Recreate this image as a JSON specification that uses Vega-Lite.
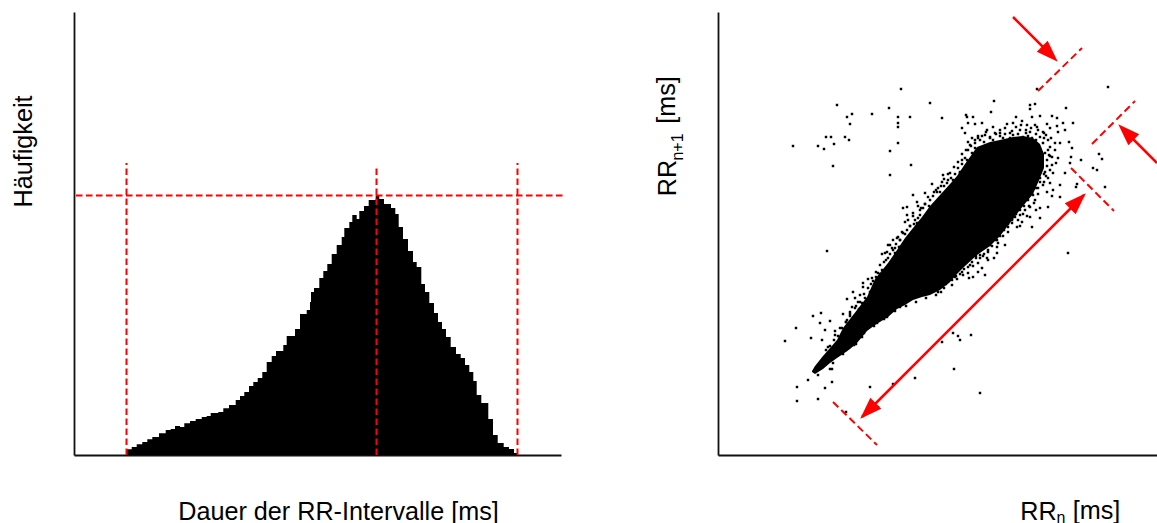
{"$schema":"https://vega.github.io/schema/vega-lite/v6.json","background":"white","padding":{"left":11,"top":12,"right":0,"bottom":0},"bounds":"flush","spacing":157,"config":{"view":{"stroke":null},"font":"Liberation Sans"},
"datasets":{
"hist":[{"ms":126.7,"n":5.7},{"ms":131.7,"n":8},{"ms":136.7,"n":10.7},{"ms":142.3,"n":13},{"ms":147.3,"n":15.7},{"ms":152.3,"n":18},{"ms":159,"n":21.7},{"ms":165.7,"n":25},{"ms":170.7,"n":26},{"ms":175,"n":29},{"ms":180,"n":28},{"ms":184.3,"n":31.7},{"ms":190,"n":34},{"ms":195.7,"n":36},{"ms":201.7,"n":38},{"ms":206.7,"n":39},{"ms":210.7,"n":42},{"ms":218.3,"n":43},{"ms":223.3,"n":46.7},{"ms":229,"n":50},{"ms":235.7,"n":55},{"ms":240,"n":59},{"ms":244.3,"n":63},{"ms":249,"n":69},{"ms":253.3,"n":73},{"ms":257.7,"n":77},{"ms":262.3,"n":83},{"ms":266.7,"n":93},{"ms":271.7,"n":99},{"ms":276,"n":104},{"ms":283.3,"n":110},{"ms":286.7,"n":119},{"ms":295,"n":126},{"ms":300,"n":141},{"ms":306.7,"n":145},{"ms":310,"n":153},{"ms":311,"n":163},{"ms":314,"n":167},{"ms":319.3,"n":177},{"ms":323.3,"n":184},{"ms":327.3,"n":191},{"ms":331.7,"n":201},{"ms":336.7,"n":210},{"ms":341.7,"n":218},{"ms":344.3,"n":227},{"ms":349.3,"n":233},{"ms":352.3,"n":240},{"ms":356.7,"n":236},{"ms":359.3,"n":244},{"ms":364,"n":249},{"ms":368.7,"n":255},{"ms":375.7,"n":260},{"ms":379.3,"n":256},{"ms":384,"n":251},{"ms":391,"n":247},{"ms":395.3,"n":241},{"ms":398.7,"n":228},{"ms":403,"n":216},{"ms":408,"n":204},{"ms":413,"n":193},{"ms":416.7,"n":188},{"ms":421.3,"n":171},{"ms":425,"n":163},{"ms":429.3,"n":152},{"ms":434,"n":142},{"ms":438,"n":133},{"ms":442,"n":126},{"ms":446,"n":118},{"ms":450.7,"n":108},{"ms":456,"n":101},{"ms":460.7,"n":97},{"ms":465,"n":90},{"ms":469.3,"n":83},{"ms":473.3,"n":74},{"ms":476.7,"n":60},{"ms":481.3,"n":52},{"ms":488.3,"n":36},{"ms":493,"n":20},{"ms":497.7,"n":12},{"ms":503.7,"n":8},{"ms":509,"n":6},{"ms":514,"n":2},{"ms":517.7,"n":0}],
"histRules":[{"ms":126.5,"ms2":126.5,"n":0,"n2":292},{"ms":376.5,"ms2":376.5,"n":0,"n2":290},{"ms":517.5,"ms2":517.5,"n":0,"n2":292},{"ms":76,"ms2":565,"n":259.5,"n2":259.5}],
"core":[{"rr":812,"hi":629,"lo":628},{"rr":815,"hi":634,"lo":626},{"rr":823,"hi":644,"lo":631},{"rr":830,"hi":652,"lo":637},{"rr":837,"hi":660,"lo":642},{"rr":843,"hi":672,"lo":646},{"rr":850,"hi":681,"lo":651},{"rr":857,"hi":690,"lo":657},{"rr":867,"hi":703,"lo":669},{"rr":875,"hi":721,"lo":675},{"rr":888,"hi":737,"lo":683},{"rr":897,"hi":750,"lo":691},{"rr":905,"hi":762,"lo":695},{"rr":913,"hi":772,"lo":700},{"rr":922,"hi":783,"lo":703},{"rr":930,"hi":794,"lo":705},{"rr":940,"hi":805,"lo":710},{"rr":950,"hi":816,"lo":718},{"rr":957,"hi":824,"lo":726},{"rr":965,"hi":836,"lo":734},{"rr":977,"hi":853,"lo":745},{"rr":990,"hi":858,"lo":754},{"rr":1000,"hi":860,"lo":764},{"rr":1013,"hi":863,"lo":781},{"rr":1023,"hi":864,"lo":794},{"rr":1033,"hi":862,"lo":806},{"rr":1040,"hi":856,"lo":822},{"rr":1044,"hi":846,"lo":832}],
"scatter":[{"rr":901,"next":911},{"rr":1108,"next":913},{"rr":1037,"next":911},{"rr":837,"next":895},{"rr":930,"next":897},{"rr":994,"next":899},{"rr":1030,"next":895},{"rr":1035,"next":896},{"rr":1066,"next":892},{"rr":1030,"next":891},{"rr":889,"next":892},{"rr":991,"next":888},{"rr":872,"next":886},{"rr":852,"next":886},{"rr":847,"next":883},{"rr":898,"next":883},{"rr":910,"next":883},{"rr":942,"next":882},{"rr":966,"next":885},{"rr":973,"next":883},{"rr":1016,"next":883},{"rr":1040,"next":884},{"rr":1052,"next":884},{"rr":1057,"next":882},{"rr":850,"next":876},{"rr":898,"next":877},{"rr":898,"next":873},{"rr":826,"next":863},{"rr":831,"next":863},{"rr":845,"next":863},{"rr":849,"next":860},{"rr":834,"next":856},{"rr":898,"next":857},{"rr":793,"next":854},{"rr":818,"next":854},{"rr":824,"next":851},{"rr":890,"next":849},{"rr":833,"next":834},{"rr":911,"next":835},{"rr":890,"next":825},{"rr":827,"next":749},{"rr":1068,"next":747},{"rr":1073,"next":877},{"rr":1063,"next":877},{"rr":1065,"next":870},{"rr":1069,"next":858},{"rr":1072,"next":852},{"rr":1071,"next":843},{"rr":1081,"next":840},{"rr":1099,"next":846},{"rr":1102,"next":841},{"rr":1093,"next":832},{"rr":1097,"next":830},{"rr":1070,"next":837},{"rr":1065,"next":827},{"rr":1077,"next":816},{"rr":1076,"next":813},{"rr":1105,"next":813},{"rr":1060,"next":815},{"rr":1060,"next":803},{"rr":1052,"next":804},{"rr":785,"next":659},{"rr":796,"next":672},{"rr":813,"next":684},{"rr":821,"next":687},{"rr":820,"next":677},{"rr":830,"next":679},{"rr":825,"next":670},{"rr":811,"next":662},{"rr":822,"next":660},{"rr":835,"next":669},{"rr":808,"next":620},{"rr":818,"next":625},{"rr":830,"next":631},{"rr":833,"next":637},{"rr":797,"next":613},{"rr":825,"next":612},{"rr":832,"next":618},{"rr":797,"next":599},{"rr":818,"next":601},{"rr":870,"next":613},{"rr":893,"next":616},{"rr":915,"next":622},{"rr":954,"next":631},{"rr":980,"next":607},{"rr":846,"next":588},{"rr":878,"next":593},{"rr":942,"next":658},{"rr":953,"next":667},{"rr":958,"next":664},{"rr":960,"next":660},{"rr":971,"next":665},{"rr":863,"next":717},{"rr":863,"next":713},{"rr":868,"next":721},{"rr":873,"next":719},{"rr":878,"next":727},{"rr":883,"next":729},{"rr":882,"next":746},{"rr":887,"next":748},{"rr":890,"next":755},{"rr":895,"next":747},{"rr":899,"next":753},{"rr":853,"next":708},{"rr":847,"next":701},{"rr":855,"next":702},{"rr":860,"next":705},{"rr":858,"next":698},{"rr":862,"next":697},{"rr":852,"next":693},{"rr":843,"next":686},{"rr":850,"next":688},{"rr":847,"next":680},{"rr":852,"next":680},{"rr":835,"next":665},{"rr":828,"next":653},{"rr":900,"next":698},{"rr":887,"next":683},{"rr":877,"next":677},{"rr":862,"next":663},{"rr":856,"next":656},{"rr":843,"next":646},{"rr":832,"next":631},{"rr":900,"next":693},{"rr":943,"next":825},{"rr":950,"next":827},{"rr":960,"next":828},{"rr":953,"next":820},{"rr":942,"next":818},{"rr":932,"next":816},{"rr":941,"next":814},{"rr":947,"next":817},{"rr":925,"next":807},{"rr":913,"next":805},{"rr":928,"next":803},{"rr":937,"next":808},{"rr":917,"next":798},{"rr":923,"next":792},{"rr":907,"next":793},{"rr":903,"next":792},{"rr":913,"next":787},{"rr":920,"next":785},{"rr":907,"next":785},{"rr":905,"next":778},{"rr":917,"next":777},{"rr":923,"next":773},{"rr":912,"next":762},{"rr":903,"next":767},{"rr":898,"next":763},{"rr":893,"next":760},{"rr":888,"next":755},{"rr":885,"next":747},{"rr":893,"next":750},{"rr":882,"next":730},{"rr":890,"next":733},{"rr":897,"next":741},{"rr":900,"next":753},{"rr":908,"next":762},{"rr":980,"next":752},{"rr":990,"next":755},{"rr":997,"next":760},{"rr":987,"next":742},{"rr":997,"next":747},{"rr":978,"next":737},{"rr":970,"next":735},{"rr":957,"next":730},{"rr":978,"next":728},{"rr":968,"next":727},{"rr":963,"next":725},{"rr":973,"next":723},{"rr":985,"next":725},{"rr":947,"next":727},{"rr":955,"next":723},{"rr":948,"next":718},{"rr":933,"next":714},{"rr":988,"next":740},{"rr":997,"next":753},{"rr":980,"next":745},{"rr":960,"next":733},{"rr":967,"next":883},{"rr":1032,"next":883},{"rr":968,"next":877},{"rr":975,"next":876},{"rr":982,"next":877},{"rr":993,"next":873},{"rr":1007,"next":876},{"rr":1013,"next":877},{"rr":1022,"next":879},{"rr":1027,"next":875},{"rr":1035,"next":875},{"rr":1047,"next":876},{"rr":1057,"next":874},{"rr":962,"next":872},{"rr":965,"next":867},{"rr":987,"next":870},{"rr":985,"next":865},{"rr":1000,"next":867},{"rr":1012,"next":869},{"rr":1020,"next":870},{"rr":1030,"next":868},{"rr":1038,"next":870},{"rr":1050,"next":872},{"rr":1058,"next":868},{"rr":980,"next":860},{"rr":975,"next":857},{"rr":968,"next":858},{"rr":975,"next":852},{"rr":972,"next":847},{"rr":967,"next":840},{"rr":962,"next":840},{"rr":970,"next":837},{"rr":965,"next":830},{"rr":960,"next":827},{"rr":993,"next":860},{"rr":1003,"next":862},{"rr":1013,"next":865},{"rr":1023,"next":863},{"rr":1032,"next":862},{"rr":1040,"next":863},{"rr":1048,"next":860},{"rr":1043,"next":857},{"rr":1050,"next":853},{"rr":1045,"next":847},{"rr":1055,"next":857},{"rr":1060,"next":857},{"rr":1052,"next":843},{"rr":1058,"next":842},{"rr":1047,"next":840},{"rr":1052,"next":835},{"rr":1053,"next":827},{"rr":1045,"next":828},{"rr":1048,"next":822},{"rr":1040,"next":822},{"rr":1043,"next":815},{"rr":1050,"next":817},{"rr":1038,"next":812},{"rr":1047,"next":808},{"rr":1033,"next":805},{"rr":1053,"next":810},{"rr":1048,"next":793},{"rr":1040,"next":792},{"rr":1030,"next":793},{"rr":1025,"next":790},{"rr":1030,"next":783},{"rr":1020,"next":785},{"rr":1015,"next":783},{"rr":1022,"next":778},{"rr":1012,"next":777},{"rr":1032,"next":773},{"rr":1017,"next":773},{"rr":1008,"next":773},{"rr":1040,"next":782},{"rr":1035,"next":800},{"rr":1000,"next":864},{"rr":1005,"next":866},{"rr":1010,"next":862},{"rr":1018,"next":866},{"rr":1026,"next":867},{"rr":1036,"next":866},{"rr":1044,"next":867},{"rr":1020,"next":862},{"rr":1028,"next":864},{"rr":1036,"next":860},{"rr":1044,"next":862},{"rr":995,"next":867},{"rr":990,"next":863},{"rr":984,"next":858},{"rr":978,"next":864},{"rr":972,"next":862},{"rr":970,"next":855},{"rr":966,"next":850},{"rr":962,"next":846},{"rr":958,"next":838},{"rr":954,"next":833},{"rr":948,"next":826},{"rr":944,"next":821},{"rr":938,"next":812},{"rr":934,"next":808},{"rr":930,"next":800},{"rr":925,"next":796},{"rr":920,"next":790},{"rr":915,"next":780},{"rr":910,"next":774},{"rr":905,"next":766},{"rr":900,"next":760},{"rr":895,"next":752},{"rr":890,"next":746},{"rr":886,"next":740},{"rr":880,"next":735},{"rr":876,"next":728},{"rr":872,"next":722},{"rr":868,"next":712},{"rr":864,"next":706},{"rr":860,"next":698},{"rr":856,"next":694},{"rr":850,"next":684},{"rr":846,"next":678},{"rr":842,"next":672},{"rr":838,"next":664},{"rr":834,"next":660},{"rr":830,"next":654},{"rr":826,"next":650},{"rr":1048,"next":850},{"rr":1050,"next":844},{"rr":1047,"next":834},{"rr":1044,"next":826},{"rr":1040,"next":818},{"rr":1036,"next":812},{"rr":1032,"next":806},{"rr":1028,"next":800},{"rr":1024,"next":794},{"rr":1020,"next":790},{"rr":1016,"next":786},{"rr":1012,"next":780},{"rr":1008,"next":776},{"rr":1004,"next":770},{"rr":1000,"next":764},{"rr":996,"next":760},{"rr":992,"next":754},{"rr":988,"next":750},{"rr":984,"next":746},{"rr":980,"next":742},{"rr":976,"next":744},{"rr":972,"next":738},{"rr":968,"next":733},{"rr":964,"next":731},{"rr":960,"next":726},{"rr":956,"next":724},{"rr":952,"next":720},{"rr":944,"next":712},{"rr":938,"next":708},{"rr":926,"next":702},{"rr":916,"next":698},{"rr":906,"next":694},{"rr":895,"next":689},{"rr":884,"next":681},{"rr":874,"next":674},{"rr":864,"next":667},{"rr":854,"next":655},{"rr":846,"next":650},{"rr":840,"next":672},{"rr":846,"next":678},{"rr":850,"next":686},{"rr":855,"next":692},{"rr":859,"next":691},{"rr":865,"next":702},{"rr":870,"next":708},{"rr":871,"next":716},{"rr":876,"next":723},{"rr":880,"next":726},{"rr":884,"next":738},{"rr":888,"next":742},{"rr":892,"next":737},{"rr":896,"next":756},{"rr":900,"next":760},{"rr":903,"next":755},{"rr":907,"next":770},{"rr":910,"next":774},{"rr":914,"next":776},{"rr":918,"next":782},{"rr":921,"next":792},{"rr":925,"next":796},{"rr":929,"next":794},{"rr":933,"next":804},{"rr":936,"next":810},{"rr":940,"next":808},{"rr":944,"next":814},{"rr":948,"next":820},{"rr":951,"next":822},{"rr":955,"next":826},{"rr":958,"next":832},{"rr":962,"next":836},{"rr":965,"next":842},{"rr":968,"next":850},{"rr":971,"next":854},{"rr":975,"next":860},{"rr":978,"next":862},{"rr":982,"next":864},{"rr":986,"next":868},{"rr":990,"next":862},{"rr":996,"next":866},{"rr":1000,"next":870},{"rr":1005,"next":872},{"rr":1010,"next":867},{"rr":1016,"next":873},{"rr":1021,"next":875},{"rr":1026,"next":870},{"rr":1031,"next":872},{"rr":1037,"next":873},{"rr":1043,"next":868},{"rr":1046,"next":865},{"rr":1051,"next":862},{"rr":1055,"next":850},{"rr":1049,"next":845},{"rr":1056,"next":837},{"rr":1050,"next":830},{"rr":1046,"next":824},{"rr":918,"next":794},{"rr":913,"next":784},{"rr":908,"next":780},{"rr":902,"next":768},{"rr":897,"next":762},{"rr":892,"next":752},{"rr":1044,"next":818},{"rr":1038,"next":806},{"rr":1034,"next":797},{"rr":1029,"next":794},{"rr":1023,"next":786},{"rr":1018,"next":780},{"rr":1012,"next":781},{"rr":1008,"next":768},{"rr":1003,"next":764},{"rr":998,"next":757},{"rr":992,"next":759},{"rr":988,"next":748},{"rr":983,"next":744},{"rr":976,"next":742},{"rr":973,"next":734},{"rr":966,"next":737},{"rr":962,"next":728},{"rr":957,"next":721},{"rr":951,"next":727},{"rr":946,"next":716},{"rr":941,"next":708},{"rr":936,"next":705},{"rr":1036,"next":790},{"rr":1027,"next":784},{"rr":1020,"next":774},{"rr":1005,"next":755},{"rr":994,"next":742},{"rr":982,"next":732},{"rr":969,"next":722},{"rr":952,"next":715}],
"guides":[{"rr":1038,"next":909,"rr2":1082,"next2":952},{"rr":1092,"next":856,"rr2":1135,"next2":899},{"rr":1071,"next":832,"rr2":1114,"next2":789},{"rr":833,"next":598,"rr2":877,"next2":555}],
"arrows":[{"rr":1084,"next":805,"rr2":862,"next2":583},{"rr":1013,"next":983,"rr2":1052,"next2":944},{"rr":1157,"next":837,"rr2":1124,"next2":870}],
"heads":[{"rr":1078,"next":799,"bearing":45},{"rr":868,"next":589,"bearing":225},{"rr":1050,"next":946,"bearing":135},{"rr":1126,"next":868,"bearing":315}],
"subs":[{"rr":683,"next":853,"label":"n+1","turn":270},{"rr":1061,"next":477,"label":"n","turn":0}],
"units":[{"rr":675,"next":900,"label":"[ms]","turn":270},{"rr":1096.5,"next":481,"label":"[ms]","turn":0}]
},
"hconcat":[
{"width":487,"height":443,"layer":[
{"data":{"name":"hist"},"mark":{"type":"area","interpolate":"step-after","color":"#000000"},"encoding":{"x":{"field":"ms","type":"quantitative","scale":{"domain":[74,561],"nice":false,"zero":false},"axis":{"title":"Dauer der RR-Intervalle [ms]","grid":false,"ticks":false,"labels":false,"domainColor":"#111111","domainWidth":1.8,"titleFont":"Liberation Sans","titleFontSize":25.2,"titleFontWeight":"normal","titleColor":"#000000","titleX":264,"titleY":64,"titleBaseline":"alphabetic","titleAlign":"center"}},"y":{"field":"n","type":"quantitative","scale":{"domain":[0,443],"nice":false},"axis":{"title":"Häufigkeit","grid":false,"ticks":false,"labels":false,"domainColor":"#111111","domainWidth":1.8,"titleFont":"Liberation Sans","titleFontSize":25.2,"titleFontWeight":"normal","titleColor":"#000000","titleX":-43,"titleY":139,"titleAngle":270,"titleBaseline":"alphabetic","titleAlign":"center"}}}},
{"data":{"name":"histRules"},"mark":{"type":"rule","color":"#ff0000","strokeWidth":2,"strokeDash":[6.5,3.5]},"encoding":{"x":{"field":"ms","type":"quantitative","scale":{"domain":[74,561],"nice":false,"zero":false}},"x2":{"field":"ms2"},"y":{"field":"n","type":"quantitative","scale":{"domain":[0,443],"nice":false}},"y2":{"field":"n2"}}}
]},
{"width":439,"height":443,"layer":[
{"data":{"name":"core"},"mark":{"type":"area","color":"#000000"},"encoding":{"x":{"field":"rr","type":"quantitative","scale":{"domain":[718,1157],"nice":false,"zero":false},"axis":{"title":"RR","grid":false,"ticks":false,"labels":false,"domainColor":"#111111","domainWidth":1.8,"titleFont":"Liberation Sans","titleFontSize":25.2,"titleFontWeight":"normal","titleColor":"#000000","titleX":320,"titleY":64,"titleBaseline":"alphabetic","titleAlign":"center"}},"y":{"field":"hi","type":"quantitative","scale":{"domain":[545,988],"nice":false,"zero":false},"axis":{"title":"RR","grid":false,"ticks":false,"labels":false,"domainColor":"#111111","domainWidth":1.8,"titleFont":"Liberation Sans","titleFontSize":25.2,"titleFontWeight":"normal","titleColor":"#000000","titleX":-43,"titleY":165.5,"titleAngle":270,"titleBaseline":"alphabetic","titleAlign":"center"}},"y2":{"field":"lo"}}},
{"data":{"name":"scatter"},"mark":{"type":"square","color":"#000000","size":6,"opacity":1},"encoding":{"x":{"field":"rr","type":"quantitative","scale":{"domain":[718,1157],"nice":false,"zero":false}},"y":{"field":"next","type":"quantitative","scale":{"domain":[545,988],"nice":false,"zero":false}}}},
{"data":{"name":"guides"},"mark":{"type":"rule","color":"#ff0000","strokeWidth":2,"strokeDash":[7.5,4]},"encoding":{"x":{"field":"rr","type":"quantitative","scale":{"domain":[718,1157],"nice":false,"zero":false}},"x2":{"field":"rr2"},"y":{"field":"next","type":"quantitative","scale":{"domain":[545,988],"nice":false,"zero":false}},"y2":{"field":"next2"}}},
{"data":{"name":"arrows"},"mark":{"type":"rule","color":"#ff0000","strokeWidth":2.5},"encoding":{"x":{"field":"rr","type":"quantitative","scale":{"domain":[718,1157],"nice":false,"zero":false}},"x2":{"field":"rr2"},"y":{"field":"next","type":"quantitative","scale":{"domain":[545,988],"nice":false,"zero":false}},"y2":{"field":"next2"}}},
{"data":{"name":"heads"},"mark":{"type":"point","filled":true,"color":"#ff0000","opacity":1,"shape":"M0,-1L0.7,1L-0.7,1Z","size":484},"encoding":{"x":{"field":"rr","type":"quantitative","scale":{"domain":[718,1157],"nice":false,"zero":false}},"y":{"field":"next","type":"quantitative","scale":{"domain":[545,988],"nice":false,"zero":false}},"angle":{"field":"bearing","type":"quantitative","scale":null}}},
{"data":{"name":"subs"},"mark":{"type":"text","font":"Liberation Sans","fontSize":16,"align":"center","baseline":"alphabetic","color":"#000000"},"encoding":{"x":{"field":"rr","type":"quantitative","scale":{"domain":[718,1157],"nice":false,"zero":false}},"y":{"field":"next","type":"quantitative","scale":{"domain":[545,988],"nice":false,"zero":false}},"text":{"field":"label"},"angle":{"field":"turn","type":"quantitative","scale":null}}},
{"data":{"name":"units"},"mark":{"type":"text","font":"Liberation Sans","fontSize":25.2,"align":"center","baseline":"alphabetic","color":"#000000"},"encoding":{"x":{"field":"rr","type":"quantitative","scale":{"domain":[718,1157],"nice":false,"zero":false}},"y":{"field":"next","type":"quantitative","scale":{"domain":[545,988],"nice":false,"zero":false}},"text":{"field":"label"},"angle":{"field":"turn","type":"quantitative","scale":null}}}
]}
]}
